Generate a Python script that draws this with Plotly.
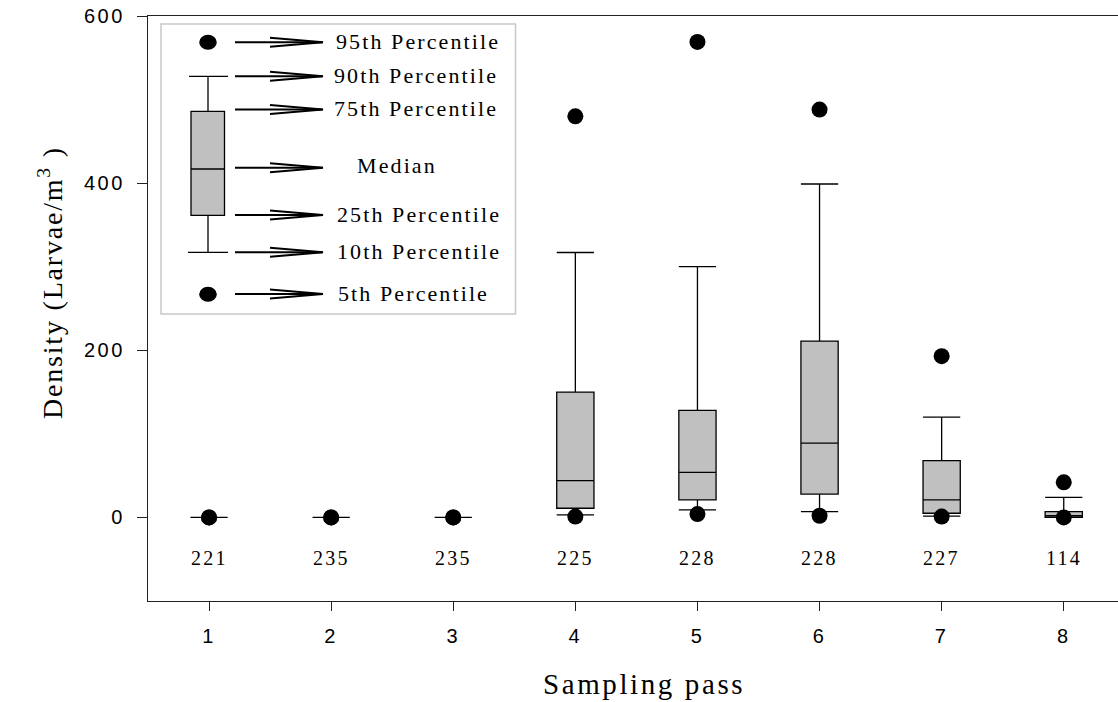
import plotly.graph_objects as go

# ---------------- data ----------------
passes = [1, 2, 3, 4, 5, 6, 7, 8]
p5 = [0, 0, 0, 1, 4, 2, 1, 0]
p10 = [0, 0, 0, 3, 9, 7, 1.5, 0]
p25 = [0, 0, 0, 11, 21, 28, 5, 0]
p50 = [0, 0, 0, 44, 54, 89, 21, 2]
p75 = [0, 0, 0, 150, 128, 211, 68, 7]
p90 = [0, 0, 0, 317, 300, 399, 120, 24]
p95 = [0, 0, 0, 480, 569, 488, 193, 42]
n_obs = [221, 235, 235, 225, 228, 228, 227, 114]
y_ticks = [0, 200, 400, 600]
x_ticks = [1, 2, 3, 4, 5, 6, 7, 8]
legend_labels = ["95th Percentile", "90th Percentile", "75th Percentile", "Median",
                 "25th Percentile", "10th Percentile", "5th Percentile"]

# ---------------- layout constants ----------------
W, H = 1118, 702
ML, MR, MT, MB = 148, 0, 16, 101
PW, PH = W - ML - MR, H - MT - MB
SERIF = "Liberation Serif, Times New Roman, serif"
SANS = "Liberation Sans, Arial, sans-serif"
BOX_FILL = "#c0c0c0"


def X(px):
    return (px - ML) / PW


def Y(py):
    return (MT + PH - py) / PH


def spaced(t, sp):
    return f'<span style="letter-spacing:{sp}px">{t}</span>'


fig = go.Figure()

# percentile dots (5th and 95th)
fig.add_trace(go.Scatter(
    x=passes + passes, y=p5 + p95, mode="markers",
    marker=dict(color="black", size=16, line=dict(width=0)),
    showlegend=False, hoverinfo="skip"))

# boxes (25-75), median, whiskers (10-90)
fig.add_trace(go.Box(
    x=passes, q1=p25, median=p50, q3=p75, lowerfence=p10, upperfence=p90,
    boxpoints=False, width=0.305, whiskerwidth=1,
    fillcolor=BOX_FILL, line=dict(color="black", width=1.3),
    showlegend=False, hoverinfo="skip"))

shapes = []
annotations = []

# sample-size labels under each box
for xv, nv in zip(passes, n_obs):
    annotations.append(dict(x=xv, y=-48, xref="x", yref="y", text=spaced(nv, 2.3),
                            showarrow=False, xanchor="center", yanchor="middle",
                            font=dict(family=SERIF, size=20, color="black")))

# ---------------- key (legend) drawn as shapes ----------------
shapes.append(dict(type="rect", xref="paper", yref="paper",
                   x0=X(161), x1=X(515.5), y0=Y(24), y1=Y(314),
                   line=dict(color="#c8c8c8", width=1.5), fillcolor="white", layer="below"))
cx = 208
line_k = dict(color="black", width=1.3)
# upper dot
shapes.append(dict(type="circle", xref="paper", yref="paper",
                   x0=X(cx - 8.8), x1=X(cx + 8.8), y0=Y(42.3 - 7.5), y1=Y(42.3 + 7.5),
                   fillcolor="black", line=dict(width=0)))
# lower dot
shapes.append(dict(type="circle", xref="paper", yref="paper",
                   x0=X(cx - 8.8), x1=X(cx + 8.8), y0=Y(294.3 - 7.5), y1=Y(294.3 + 7.5),
                   fillcolor="black", line=dict(width=0)))
# caps
shapes.append(dict(type="line", xref="paper", yref="paper", x0=X(189), x1=X(228),
                   y0=Y(76.3), y1=Y(76.3), line=line_k))
shapes.append(dict(type="line", xref="paper", yref="paper", x0=X(188), x1=X(228),
                   y0=Y(252.3), y1=Y(252.3), line=line_k))
# whiskers
shapes.append(dict(type="line", xref="paper", yref="paper", x0=X(cx), x1=X(cx),
                   y0=Y(76.3), y1=Y(111.3), line=line_k))
shapes.append(dict(type="line", xref="paper", yref="paper", x0=X(cx), x1=X(cx),
                   y0=Y(215.3), y1=Y(252.3), line=line_k))
# box + median
shapes.append(dict(type="rect", xref="paper", yref="paper", x0=X(191), x1=X(224.5),
                   y0=Y(215.3), y1=Y(111.3), fillcolor=BOX_FILL, line=line_k))
shapes.append(dict(type="line", xref="paper", yref="paper", x0=X(191), x1=X(224.5),
                   y0=Y(169), y1=Y(169), line=line_k))

# arrows and labels
arrow_y = [42.3, 76.3, 109.5, 167.7, 215, 252.3, 294]
label_x = [334, 332, 332, 355, 335, 335, 336]
label_y = [42, 76, 108.5, 165.5, 214, 251.7, 293]
for ay, lx, ly, lab in zip(arrow_y, label_x, label_y, legend_labels):
    shapes.append(dict(type="line", xref="paper", yref="paper", x0=X(235), x1=X(322.5),
                       y0=Y(ay), y1=Y(ay), line=dict(color="black", width=2)))
    shapes.append(dict(type="path", xref="paper", yref="paper",
                       path=f"M {X(270)},{Y(ay - 4.5)} L {X(323)},{Y(ay)} L {X(270)},{Y(ay + 4.5)}",
                       line=dict(color="black", width=2)))
    annotations.append(dict(x=X(lx), y=Y(ly), xref="paper", yref="paper",
                            text=spaced(lab, 2.1), showarrow=False,
                            xanchor="left", yanchor="middle",
                            font=dict(family=SERIF, size=22, color="black")))

# axis titles
annotations.append(dict(x=X(644), y=Y(684), xref="paper", yref="paper",
                        text=spaced("Sampling pass", 2.6), showarrow=False,
                        xanchor="center", yanchor="middle",
                        font=dict(family=SERIF, size=29, color="black")))
annotations.append(dict(x=X(50), y=Y(283), xref="paper", yref="paper",
                        text=spaced("Density (Larvae/m<sup>3</sup> )", 1.8), showarrow=False,
                        textangle=-90, xanchor="center", yanchor="middle",
                        font=dict(family=SERIF, size=28, color="black")))

fig.update_layout(
    width=W, height=H,
    margin=dict(l=ML, r=MR, t=MT, b=MB, pad=0),
    paper_bgcolor="white", plot_bgcolor="white",
    showlegend=False,
    shapes=shapes, annotations=annotations,
    xaxis=dict(range=[0.5, 0.5 + PW / 122.1], tickvals=x_ticks,
               ticktext=[spaced(v, 2.5) for v in x_ticks],
               showgrid=False, zeroline=False, showline=True, mirror=True,
               linecolor="#222", linewidth=1.3, ticks="outside", ticklen=9,
               tickwidth=1.3, tickcolor="#222", ticklabelstandoff=8,
               tickfont=dict(family=SANS, size=20, color="black")),
    yaxis=dict(range=[-100, 600], tickvals=y_ticks,
               ticktext=[spaced(v, 2.5) for v in y_ticks],
               showgrid=False, zeroline=False, showline=True,
               linecolor="#222", linewidth=1.3, ticks="outside", ticklen=10,
               tickwidth=1.3, tickcolor="#222", ticklabelstandoff=8,
               tickfont=dict(family=SANS, size=20, color="black")),
)

fig.write_html("out.html")
